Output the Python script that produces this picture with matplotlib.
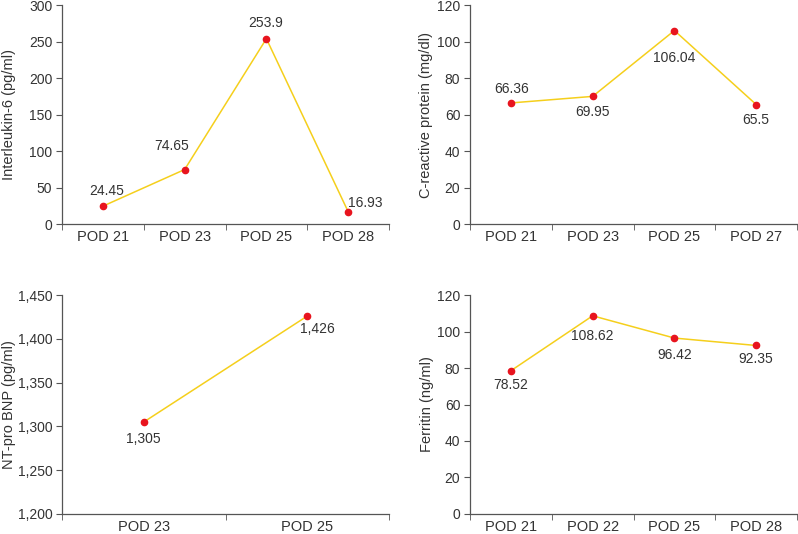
import matplotlib
matplotlib.use('Agg')
import matplotlib.pyplot as plt
from matplotlib.ticker import StrMethodFormatter, FixedLocator, NullFormatter

plt.rcParams['font.family'] = ['Liberation Sans', 'DejaVu Sans']
plt.rcParams['font.size'] = 10

TEXT = '#333333'
AXIS = '#555555'
LINE = '#F5CF1C'
DOT = '#E8141E'

# datos de cada panel
il6_days = ['POD 21', 'POD 23', 'POD 25', 'POD 28']
il6_vals = [24.45, 74.65, 253.9, 16.93]
il6_labels = ['24.45', '74.65', '253.9', '16.93']

crp_days = ['POD 21', 'POD 23', 'POD 25', 'POD 27']
crp_vals = [66.36, 69.95, 106.04, 65.5]
crp_labels = ['66.36', '69.95', '106.04', '65.5']

bnp_days = ['POD 23', 'POD 25']
bnp_vals = [1305, 1426]
bnp_labels = ['1,305', '1,426']

fer_days = ['POD 21', 'POD 22', 'POD 25', 'POD 28']
fer_vals = [78.52, 108.62, 96.42, 92.35]
fer_labels = ['78.52', '108.62', '96.42', '92.35']

# desplazamiento de las etiquetas en pixeles
il6_off = [(4, 15), (-13, 24), (-1, 16), (17, 9)]
crp_off = [(1, 14), (0, -16), (0, -27), (0, -15)]
bnp_off = [(0, -17), (10, -13)]
fer_off = [(0, -14), (0, -20), (0, -17), (0, -14)]

fig = plt.figure(figsize=(7.98, 5.34), dpi=100)

# posicion x del titulo del eje y (pixeles de la figura)
panels = [
    ([0.0777, 0.5805, 0.4098, 0.410], il6_days, il6_vals, il6_labels, il6_off,
     'Interleukin-6 (pg/ml)', (0, 300), 50, False, 9),
    ([0.589, 0.5805, 0.4098, 0.410], crp_days, crp_vals, crp_labels, crp_off,
     'C-reactive protein (mg/dl)', (0, 120), 20, False, 426),
    ([0.0777, 0.0375, 0.4098, 0.410], bnp_days, bnp_vals, bnp_labels, bnp_off,
     'NT-pro BNP (pg/ml)', (1200, 1450), 50, True, 9),
    ([0.589, 0.0375, 0.4098, 0.410], fer_days, fer_vals, fer_labels, fer_off,
     'Ferritin (ng/ml)', (0, 120), 20, False, 427),
]

for rect, days, vals, labels, offs, ylabel, ylim, step, comma, lab_x in panels:
    ax = fig.add_axes(rect)
    x = list(range(len(days)))
    ax.plot(x, vals, color=LINE, lw=1.1, zorder=2)
    ax.plot(x, vals, 'o', color=DOT, ms=4.5, zorder=3)
    for xi, v, lab, off in zip(x, vals, labels, offs):
        ax.annotate(lab, (xi, v), xytext=off, textcoords='offset pixels',
                    ha='center', va='center', color=TEXT, fontsize=10)
    ax.set_xlim(-0.5, len(days) - 0.5)
    ax.set_ylim(*ylim)
    ax.set_yticks(range(ylim[0], ylim[1] + 1, step))
    if comma:
        ax.yaxis.set_major_formatter(StrMethodFormatter('{x:,.0f}'))
    ax.set_xticks(x)
    ax.set_xticklabels(days)
    ax.xaxis.set_minor_locator(FixedLocator([i - 0.5 for i in range(len(days) + 1)]))
    ax.xaxis.set_minor_formatter(NullFormatter())
    ax.tick_params(axis='x', which='major', length=0, pad=4, colors=TEXT, labelsize=10.5)
    ax.tick_params(axis='x', which='minor', length=4, color=AXIS)
    ax.tick_params(axis='y', length=4, pad=3, color=AXIS, labelcolor=TEXT, labelsize=10)
    ax.set_ylabel(ylabel, color=TEXT, fontsize=10.5, va='center')
    ax.yaxis.set_label_coords(lab_x / 798, rect[1] + rect[3] / 2, transform=fig.transFigure)
    for s in ['top', 'right']:
        ax.spines[s].set_visible(False)
    for s in ['left', 'bottom']:
        ax.spines[s].set_color(AXIS)
        ax.spines[s].set_linewidth(0.9)

fig.savefig('out.png', dpi=100)
